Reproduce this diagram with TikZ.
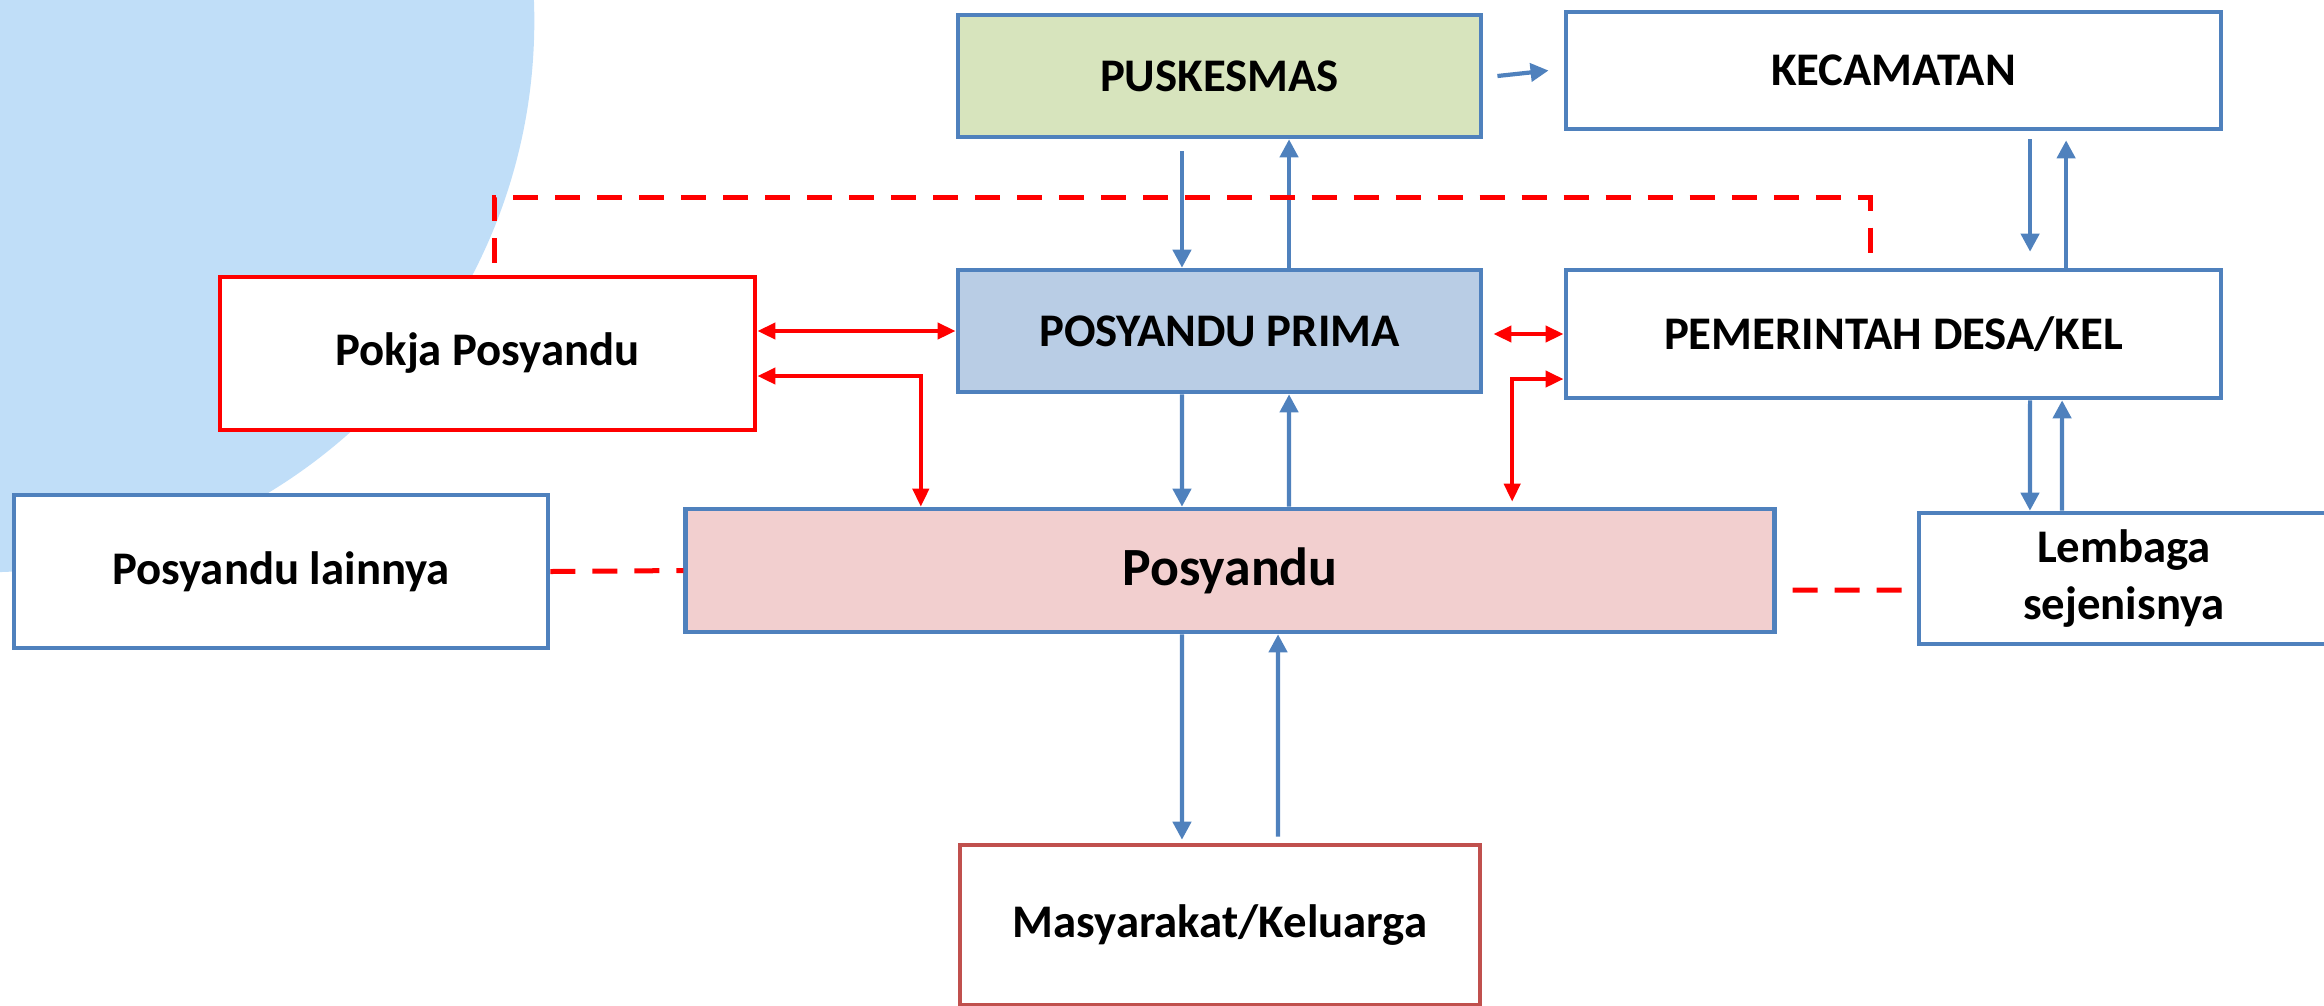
\documentclass[tikz,border=0pt]{standalone}
\usepackage{fontspec}
\setmainfont{Carlito}
\usepackage{tikz}
\usetikzlibrary{arrows.meta}
\definecolor{boxblue}{HTML}{4F81BD}
\definecolor{circblue}{HTML}{C0DEF8}
\definecolor{puskgreen}{HTML}{D7E4BD}
\definecolor{primablue}{HTML}{B9CDE5}
\definecolor{posypink}{HTML}{F2CFCF}
\definecolor{masyred}{HTML}{C0504D}

\begin{document}
\begin{tikzpicture}[x=0.01cm, y=-0.01cm,
  box/.style={draw=boxblue, fill=white, line width=0.045cm, inner sep=0pt, align=center,
    font=\fontsize{13.3}{16}\selectfont\bfseries},
  barrow/.style={boxblue, line width=0.042cm, ->, >={Triangle[length=0.18cm,width=0.18cm]}},
  rarrow/.style={red, line width=0.04cm, >={Triangle[length=0.18cm,width=0.16cm]}},
  rdash/.style={red, line width=0.05cm, dash pattern=on 0.25cm off 0.17cm}]
  \useasboundingbox (0,0) rectangle (2324,1005);
  % background disc
  \fill[circblue] (-17,21) circle (5.51cm);

  \node[box, fill=puskgreen, minimum width=5.23cm, minimum height=1.22cm] (pusk) at (1219.5,76) {PUSKESMAS};
  \node[box, minimum width=6.55cm, minimum height=1.17cm] (kec) at (1893.5,70.5) {KECAMATAN};
  \node[box, fill=primablue, minimum width=5.23cm, minimum height=1.22cm] (prima) at (1219.5,331) {POSYANDU PRIMA};
  \node[box, minimum width=6.55cm, minimum height=1.28cm] (pem) at (1893.5,334) {PEMERINTAH DESA/KEL};
  \node[box, draw=red, minimum width=5.35cm, minimum height=1.53cm] (pokja) at (487.5,353.5) {Pokja Posyandu};
  \node[box, minimum width=5.34cm, minimum height=1.53cm] (lain) at (281,571.5) {Posyandu lainnya};
  \node[box, fill=posypink, minimum width=10.88cm, minimum height=1.23cm,
    font=\fontsize{15.3}{18}\selectfont\bfseries] (posy) at (1230,570.5) {Posyandu};
  \node[box, minimum width=4.10cm, minimum height=1.31cm] (lemb) at (2124,578.5) {Lembaga\\sejenisnya};
  \node[box, draw=masyred, minimum width=5.20cm, minimum height=1.60cm] (masy) at (1220,925) {Masyarakat/Keluarga};

  % blue flows
  \draw[barrow] ([xshift=0.14cm]pusk.east) -- ([xshift=-0.15cm]kec.west);
  \draw[barrow] ([xshift=-0.375cm,yshift=-0.12cm]pusk.south) -- ([xshift=-0.375cm]prima.north);
  \draw[barrow] ([xshift=0.695cm]prima.north) -- ([xshift=0.695cm]pusk.south);
  \draw[barrow] ([xshift=-0.375cm]prima.south) -- ([xshift=-0.48cm]posy.north);
  \draw[barrow] ([xshift=0.59cm]posy.north) -- ([xshift=0.695cm]prima.south);
  \draw[barrow] ([xshift=1.365cm,yshift=-0.08cm]kec.south) -- ([xshift=1.365cm,yshift=0.16cm]pem.north);
  \draw[barrow] ([xshift=1.725cm]pem.north) -- ([xshift=1.725cm,yshift=-0.09cm]kec.south);
  \draw[barrow] ([xshift=1.365cm]pem.south) -- ([xshift=-0.94cm]lemb.north);
  \draw[barrow] ([xshift=-0.62cm]lemb.north) -- ([xshift=1.685cm]pem.south);
  \draw[barrow] ([xshift=-0.48cm]posy.south) -- ([xshift=-0.38cm,yshift=0.03cm]masy.north);
  \draw[barrow] ([xshift=0.58cm,yshift=0.06cm]masy.north) -- ([xshift=0.48cm]posy.south);

  % red flows
  \draw[rarrow, <->] (pokja.east |- prima.west) -- (prima.west);
  \draw[rarrow, <->] ([yshift=-0.225cm]pokja.east) -| ([xshift=-3.09cm]posy.north);
  \draw[rarrow, <->] ([xshift=0.1cm]prima.east |- pem.west) -- (pem.west);
  \draw[rarrow, <->] ([yshift=-0.45cm]pem.west) -| ([xshift=2.82cm,yshift=0.05cm]posy.north);

  % dashed links
  \draw[rdash] ([xshift=0.065cm,yshift=0.12cm]pokja.north) -- ++(0,-65)
    -| ([xshift=-0.235cm,yshift=0.08cm]pem.north);
  \draw[rdash] (lain.east) -- (posy.west);
  \draw[rdash] ([xshift=0.16cm,yshift=-0.195cm]posy.east) -- ([yshift=-0.115cm]lemb.west);
\end{tikzpicture}
\end{document}
